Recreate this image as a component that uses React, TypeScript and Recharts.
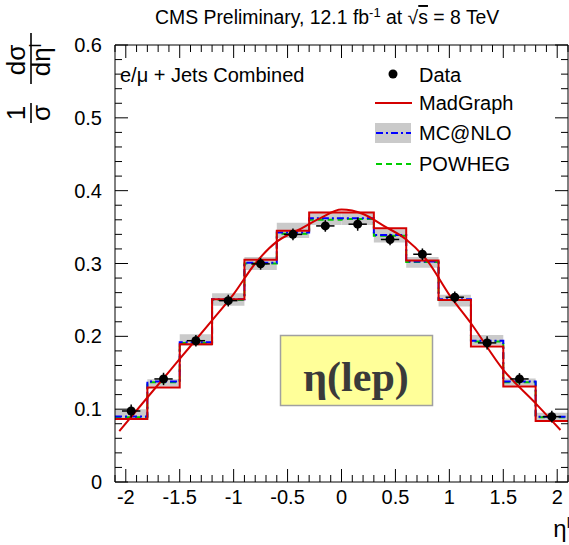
import React from 'react';
import { ComposedChart, XAxis, YAxis, Line, Scatter, ErrorBar, ReferenceArea } from 'recharts';

// Lepton pseudorapidity bins
const BIN_LOW = [-2.1, -1.8, -1.5, -1.2, -0.9, -0.6, -0.3, 0.0, 0.3, 0.6, 0.9, 1.2, 1.5, 1.8];
const BIN_HIGH = [-1.8, -1.5, -1.2, -0.9, -0.6, -0.3, 0.0, 0.3, 0.6, 0.9, 1.2, 1.5, 1.8, 2.1];
const BIN_CENTER = [-1.95, -1.65, -1.35, -1.05, -0.75, -0.45, -0.15, 0.15, 0.45, 0.75, 1.05, 1.35, 1.65, 1.95];

// Measured normalised cross section
const DATA_VAL = [0.0975, 0.1415, 0.194, 0.249, 0.2995, 0.34, 0.3516, 0.354, 0.333, 0.3127, 0.2537, 0.191, 0.1415, 0.0897];
const DATA_ERR_Y = [0.009, 0.0085, 0.008, 0.008, 0.008, 0.008, 0.008, 0.009, 0.008, 0.008, 0.008, 0.009, 0.008, 0.008];
const DATA_ERR_X = [0.085, 0.085, 0.085, 0.085, 0.085, 0.085, 0.085, 0.085, 0.085, 0.085, 0.085, 0.085, 0.085, 0.085];

// Generator predictions per bin
const MADGRAPH = [0.0865, 0.1296, 0.189, 0.251, 0.305, 0.345, 0.37, 0.37, 0.3485, 0.304, 0.25, 0.186, 0.131, 0.0838];
const MCNLO = [0.09, 0.138, 0.192, 0.251, 0.301, 0.3425, 0.362, 0.362, 0.339, 0.3026, 0.251, 0.194, 0.138, 0.0897];
const MCNLO_LOW = [0.085, 0.131, 0.187, 0.242, 0.291, 0.335, 0.353, 0.353, 0.329, 0.294, 0.241, 0.188, 0.132, 0.085];
const MCNLO_HIGH = [0.1, 0.141, 0.203, 0.259, 0.309, 0.356, 0.371, 0.371, 0.347, 0.309, 0.257, 0.202, 0.142, 0.095];
const POWHEG = [0.089, 0.137, 0.191, 0.25, 0.3, 0.341, 0.36, 0.361, 0.338, 0.302, 0.25, 0.193, 0.137, 0.089];

// Smooth MadGraph curve
const CURVE_X = [-2.06, -1.8, -1.5, -1.2, -1.0, -0.8, -0.6, -0.4, -0.2, 0.0, 0.2, 0.4, 0.6, 0.8, 1.0, 1.2, 1.5, 1.8, 2.03];
const CURVE_Y = [0.07, 0.116, 0.169, 0.222, 0.258, 0.3, 0.33, 0.346, 0.362, 0.374, 0.368, 0.351, 0.333, 0.303, 0.257, 0.218, 0.154, 0.108, 0.0714];

// Axis labels
const X_MAJOR = [-2, -1.5, -1, -0.5, 0, 0.5, 1, 1.5, 2];
const Y_MAJOR = [0, 0.1, 0.2, 0.3, 0.4, 0.5, 0.6];

const X_TICKS: number[] = [];
for (let i = -21; i <= 21; i++) X_TICKS.push(i / 10);
const Y_TICKS: number[] = [];
for (let i = 0; i <= 30; i++) Y_TICKS.push(i / 50);

const stepData = (vals: number[]) => {
  const pts = BIN_LOW.map((lo, i) => ({ x: lo, y: vals[i] }));
  pts.push({ x: BIN_HIGH[BIN_HIGH.length - 1], y: vals[vals.length - 1] });
  return pts;
};

const madgraphSteps = stepData(MADGRAPH);
const mcnloSteps = stepData(MCNLO);
const powhegSteps = stepData(POWHEG);
const curveData = CURVE_X.map((x, i) => ({ x, y: CURVE_Y[i] }));
const pointData = BIN_CENTER.map((x, i) => ({ x, y: DATA_VAL[i], ex: DATA_ERR_X[i], ey: DATA_ERR_Y[i] }));

const FONT = '"Liberation Sans", Arial, Helvetica, sans-serif';
const RED = '#d40000';
const BLUE = '#0000ff';
const GREEN = '#00cc00';
const BAND = '#cacaca';

const isMajor = (v: number, majors: number[]) => majors.some((m) => Math.abs(m - v) < 1e-6);

const XTickBottom = (props: any) => {
  const { x, y, payload } = props;
  const major = isMajor(payload.value, X_MAJOR);
  return (
    <g>
      <line x1={x} y1={y} x2={x} y2={y - (major ? 13 : 7)} stroke="#000" strokeWidth={1} />
      {major && (
        <text x={x} y={y + 22} textAnchor="middle" fontSize={20} fontFamily={FONT} fill="#000">
          {String(payload.value)}
        </text>
      )}
    </g>
  );
};

const XTickTop = (props: any) => {
  const { x, y, payload } = props;
  const major = isMajor(payload.value, X_MAJOR);
  return <line x1={x} y1={y} x2={x} y2={y + (major ? 13 : 7)} stroke="#000" strokeWidth={1} />;
};

const YTickLeft = (props: any) => {
  const { x, y, payload } = props;
  const major = isMajor(payload.value, Y_MAJOR);
  return (
    <g>
      <line x1={x} y1={y} x2={x + (major ? 13 : 7)} y2={y} stroke="#000" strokeWidth={1} />
      {major && (
        <text x={x - 13} y={y + 7} textAnchor="end" fontSize={20} fontFamily={FONT} fill="#000">
          {String(payload.value)}
        </text>
      )}
    </g>
  );
};

const YTickRight = (props: any) => {
  const { x, y, payload } = props;
  const major = isMajor(payload.value, Y_MAJOR);
  return <line x1={x} y1={y} x2={x - (major ? 13 : 7)} y2={y} stroke="#000" strokeWidth={1} />;
};

const DataDot = (props: any) => <circle cx={props.cx} cy={props.cy} r={4.5} fill="#000" />;

export default function App() {
  return (
    <div style={{ position: 'absolute', left: 0, top: 0, width: 569, height: 545, background: '#fff', fontFamily: FONT }}>
      <ComposedChart width={569} height={545} margin={{ top: 44, right: 0, bottom: 23, left: 55 }}>
        <XAxis
          dataKey="x"
          type="number"
          domain={[-2.1, 2.1]}
          allowDataOverflow
          ticks={X_TICKS}
          interval={0}
          tick={<XTickBottom />}
          tickLine={false}
          tickSize={0}
          tickMargin={0}
          height={40}
          axisLine={{ stroke: '#000', strokeWidth: 1 }}
        />
        <XAxis
          xAxisId="top"
          orientation="top"
          dataKey="x"
          type="number"
          domain={[-2.1, 2.1]}
          allowDataOverflow
          ticks={X_TICKS}
          interval={0}
          tick={<XTickTop />}
          tickLine={false}
          tickSize={0}
          tickMargin={0}
          height={1}
          axisLine={{ stroke: '#000', strokeWidth: 1 }}
        />
        <YAxis
          type="number"
          domain={[0, 0.6]}
          allowDataOverflow
          ticks={Y_TICKS}
          interval={0}
          tick={<YTickLeft />}
          tickLine={false}
          tickSize={0}
          tickMargin={0}
          width={60}
          axisLine={{ stroke: '#000', strokeWidth: 1 }}
        />
        <YAxis
          yAxisId="right"
          orientation="right"
          type="number"
          domain={[0, 0.6]}
          allowDataOverflow
          ticks={Y_TICKS}
          interval={0}
          tick={<YTickRight />}
          tickLine={false}
          tickSize={0}
          tickMargin={0}
          width={1}
          axisLine={{ stroke: '#000', strokeWidth: 1 }}
        />

        {BIN_LOW.map((lo, i) => (
          <ReferenceArea
            key={`band-${i}`}
            x1={lo}
            x2={BIN_HIGH[i]}
            y1={MCNLO_LOW[i]}
            y2={MCNLO_HIGH[i]}
            fill={BAND}
            fillOpacity={1}
            stroke="none"
          />
        ))}

        <Line data={powhegSteps} dataKey="y" type="stepAfter" stroke={GREEN} strokeWidth={2} strokeDasharray="6 4" dot={false} activeDot={false} isAnimationActive={false} />
        <Line data={mcnloSteps} dataKey="y" type="stepAfter" stroke={BLUE} strokeWidth={2} strokeDasharray="7 3 2 3" dot={false} activeDot={false} isAnimationActive={false} />
        <Line data={madgraphSteps} dataKey="y" type="stepAfter" stroke={RED} strokeWidth={2} dot={false} activeDot={false} isAnimationActive={false} />
        <Line data={curveData} dataKey="y" type="monotone" stroke={RED} strokeWidth={2} dot={false} activeDot={false} isAnimationActive={false} />

        <Scatter data={pointData} dataKey="y" shape={<DataDot />} isAnimationActive={false}>
          <ErrorBar dataKey="ey" direction="y" width={0} stroke="#000" strokeWidth={1.5} isAnimationActive={false} />
          <ErrorBar dataKey="ex" direction="x" width={0} stroke="#000" strokeWidth={1.5} isAnimationActive={false} />
        </Scatter>
      </ComposedChart>

      <svg width={569} height={545} style={{ position: 'absolute', left: 0, top: 0, pointerEvents: 'none' }} fontFamily={FONT}>
        {/* header */}
        <text x={155} y={24} fontSize={19.4} fill="#000">
          CMS Preliminary, 12.1 fb
          <tspan dy={-7} fontSize={13}>-1</tspan>
          <tspan dy={7}> at </tspan>
          <tspan>√</tspan>
          <tspan style={{ textDecoration: 'overline' }}>s</tspan>
          <tspan> = 8 TeV</tspan>
        </text>

        {/* y-axis title */}
        <g transform="translate(31, 88) rotate(-90)" fill="#000">
          <text x={-25} y={-6} textAnchor="middle" fontSize={26}>1</text>
          <line x1={-35} y1={0} x2={-15} y2={0} stroke="#000" strokeWidth={1.6} />
          <text x={-25} y={19} textAnchor="middle" fontSize={26}>σ</text>
          <text x={28} y={-6} textAnchor="middle" fontSize={26}>dσ</text>
          <line x1={4} y1={0} x2={55} y2={0} stroke="#000" strokeWidth={1.6} />
          <text x={28} y={19} textAnchor="middle" fontSize={26}>
            dη<tspan dy={-9} fontSize={16}>l</tspan>
          </text>
        </g>

        {/* x-axis title */}
        <text x={570} y={537} textAnchor="end" fontSize={24} fill="#000">
          η<tspan dy={-9} fontSize={15}>l</tspan>
        </text>

        <text x={120} y={82} fontSize={20} fill="#000">e/μ + Jets Combined</text>

        {/* legend */}
        <circle cx={393} cy={74} r={4.5} fill="#000" />
        <text x={419} y={82} fontSize={20} fill="#000">Data</text>
        <line x1={375} y1={103} x2={412} y2={103} stroke={RED} strokeWidth={2} />
        <text x={419} y={110} fontSize={20} fill="#000">MadGraph</text>
        <rect x={375} y={123} width={36} height={20} fill={BAND} />
        <line x1={376} y1={133} x2={411} y2={133} stroke={BLUE} strokeWidth={2} strokeDasharray="7 3 2 3" />
        <text x={419} y={140} fontSize={20} fill="#000">MC@NLO</text>
        <line x1={376} y1={164} x2={411} y2={164} stroke={GREEN} strokeWidth={2} strokeDasharray="6 4" />
        <text x={419} y={171} fontSize={20} fill="#000">POWHEG</text>

        {/* observable tag */}
        <rect x={280.5} y={335.5} width={152} height={70} fill="#ffff99" stroke="#a0a0a0" strokeWidth={1.5} />
        <text x={356} y={391} textAnchor="middle" fontSize={42} fontWeight="bold" fontFamily='"Liberation Serif", "Times New Roman", serif' fill="#3a3a3a">
          η(lep)
        </text>
      </svg>
    </div>
  );
}
